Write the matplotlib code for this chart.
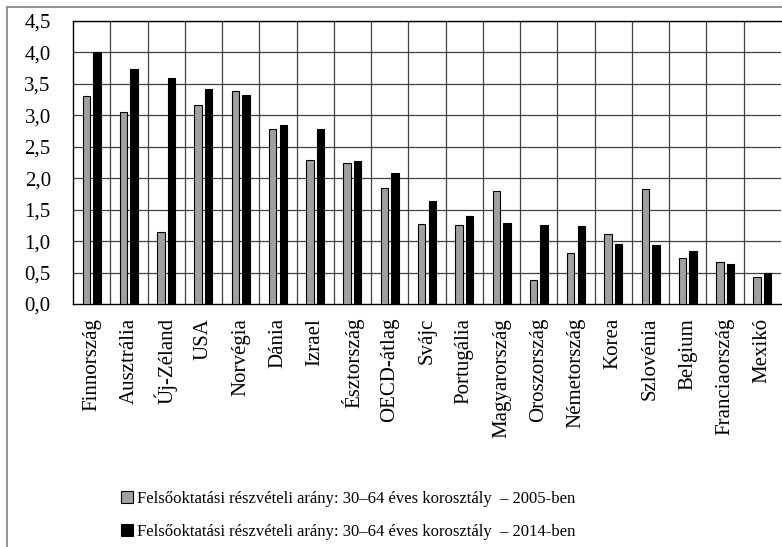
import matplotlib.pyplot as plt
import numpy as np

plt.rcParams['font.family'] = 'serif'
plt.rcParams['font.serif'] = ['Liberation Serif', 'DejaVu Serif']

# country labels (x axis)
countries = ['Finnország', 'Ausztrália', 'Új-Zéland', 'USA', 'Norvégia', 'Dánia',
             'Izrael', 'Észtország', 'OECD-átlag', 'Svájc', 'Portugália',
             'Magyarország', 'Oroszország', 'Németország', 'Korea', 'Szlovénia',
             'Belgium', 'Franciaország', 'Mexikó']

# 2005 values (gray)
v2005 = [3.30, 3.05, 1.14, 3.17, 3.39, 2.79, 2.29, 2.25, 1.84, 1.27, 1.26,
         1.79, 0.38, 0.81, 1.11, 1.83, 0.73, 0.67, 0.43]
# 2014 values (black)
v2014 = [4.01, 3.74, 3.60, 3.42, 3.32, 2.85, 2.78, 2.27, 2.08, 1.63, 1.40,
         1.29, 1.26, 1.24, 0.95, 0.94, 0.85, 0.63, 0.50]

yticks = [0.0, 0.5, 1.0, 1.5, 2.0, 2.5, 3.0, 3.5, 4.0, 4.5]

lab2005 = 'Felsőoktatási részvételi arány: 30–64 éves korosztály  – 2005-ben'
lab2014 = 'Felsőoktatási részvételi arány: 30–64 éves korosztály  – 2014-ben'

fig = plt.figure(figsize=(7.82, 5.47), dpi=100)
# outer frame around the whole chart
fig.patches.append(plt.Rectangle((7/782, -0.05), 1.0, 1.05 - 7/547, transform=fig.transFigure,
                                 fill=False, edgecolor='#808080', linewidth=1.2))

ax = fig.add_axes([73/782, 1 - 304/547, (781 - 73)/782, (304 - 21)/547])

x = np.arange(len(countries))
w = 0.2
ax.bar(x - 0.142, v2005, width=w, color='#a0a0a0', edgecolor='black', linewidth=0.8,
       label=lab2005, zorder=3)
ax.bar(x + 0.142, v2014, width=w, color='black', edgecolor='black', linewidth=0.8,
       label=lab2014, zorder=3)

ax.set_xlim(-0.5, len(countries) - 0.5)
ax.set_ylim(0, 4.5)
ax.set_yticks(yticks)
ax.set_yticklabels([('%.1f' % t).replace('.', ',') for t in yticks], fontsize=15)
ax.set_xticks(x)
ax.set_xticklabels(countries, rotation=90, fontsize=15)
ax.tick_params(axis='x', length=0, pad=10)
ax.tick_params(axis='y', length=0, pad=16)

# grid: horizontal every 0.5, vertical at category borders
for t in yticks[1:]:
    ax.axhline(t, color='#404040', linewidth=0.9, zorder=1)
for b in np.arange(0.5, len(countries) - 0.5, 1):
    ax.axvline(b, color='#404040', linewidth=0.9, zorder=1)
for s in ax.spines.values():
    s.set_color('black')
    s.set_linewidth(1.0)
ax.spines['right'].set_visible(False)

leg = fig.legend(loc='upper left', bbox_to_anchor=(114/782, 1 - 484/547), frameon=False,
                 fontsize=12, handlelength=0.75, handleheight=0.75, handletextpad=0.25,
                 labelspacing=1.05, borderaxespad=0)

fig.savefig('out.png', dpi=100)
